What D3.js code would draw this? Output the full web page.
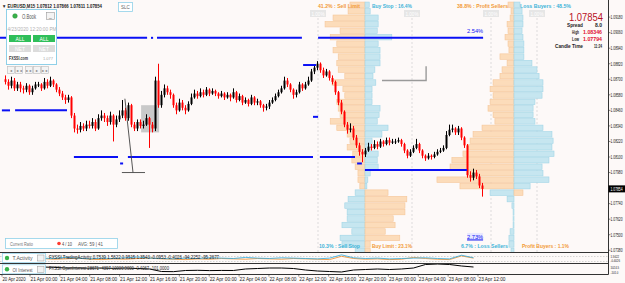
<!DOCTYPE html>
<html><head><meta charset="utf-8">
<script src="https://cdn.jsdelivr.net/npm/d3@7"></script>
<style>html,body{margin:0;padding:0;background:#fff;overflow:hidden}</style>
</head><body><svg id="c" width="625" height="283"></svg>
<script>
// ---------------- DATA ----------------
const symbolTitle = "\u25BC EURUSD,M15  1.07812 1.07866 1.07811 1.07854";
const firstOpen = 1.0870;
const closes = [1.0868,1.0865,1.0869,1.0863,1.0866,1.0863,1.0862,1.0865,1.0860,1.0863,
1.0866,1.0866,1.0863,1.0868,1.0865,1.0869,1.0866,1.0862,1.0859,1.0856,
1.0854,1.0856,1.0842,1.0832,1.0831,1.0834,1.0832,1.0835,1.0834,1.0837,
1.0832,1.0840,1.0842,1.0840,1.0837,1.0842,1.0835,1.0839,1.0842,1.0846,
1.0840,1.0850,1.0835,1.0832,1.0837,1.0834,1.0835,1.0840,1.0835,1.0832,
1.0869,1.0850,1.0858,1.0863,1.0860,1.0858,1.0850,1.0846,1.0852,1.0848,
1.0846,1.0851,1.0856,1.0859,1.0857,1.0860,1.0858,1.0862,1.0859,1.0861,
1.0859,1.0857,1.0859,1.0856,1.0858,1.0856,1.0860,1.0854,1.0857,1.0852,
1.0854,1.0851,1.0856,1.0852,1.0853,1.0850,1.0848,1.0849,1.0852,1.0854,
1.0857,1.0860,1.0863,1.0869,1.0866,1.0862,1.0858,1.0860,1.0866,1.0863,
1.0866,1.0869,1.0876,1.0879,1.0882,1.0877,1.0873,1.0876,1.0871,1.0868,
1.0860,1.0852,1.0845,1.0835,1.0831,1.0832,1.0825,1.0819,1.0814,1.0812,
1.0815,1.0818,1.0817,1.0820,1.0818,1.0822,1.0820,1.0823,1.0821,1.0822,
1.0822,1.0823,1.0820,1.0815,1.0811,1.0814,1.0817,1.0820,1.0815,1.0811,
1.0809,1.0811,1.0810,1.0812,1.0814,1.0815,1.0817,1.0827,1.0831,1.0832,
1.0829,1.0832,1.0825,1.0819,1.0796,1.0794,1.0798,1.0795,1.0788,1.07854];
const highs = [1.0873,1.0870,1.0872,1.0871,1.0868,1.0868,1.0865,1.0867,1.0866,1.0865,
1.0868,1.0868,1.0867,1.0871,1.0870,1.0872,1.0870,1.0867,1.0864,1.0861,
1.0858,1.0858,1.0857,1.0844,1.0835,1.0837,1.0836,1.0838,1.0838,1.0840,
1.0839,1.0843,1.0846,1.0844,1.0842,1.0845,1.0843,1.0842,1.0846,1.0854,
1.0848,1.0852,1.0851,1.0837,1.0839,1.0839,1.0838,1.0843,1.0841,1.0837,
1.0872,1.0882,1.0861,1.0866,1.0865,1.0862,1.0859,1.0852,1.0855,1.0854,
1.0850,1.0853,1.0859,1.0862,1.0861,1.0863,1.0862,1.0864,1.0863,1.0863,
1.0862,1.0860,1.0861,1.0860,1.0860,1.0859,1.0863,1.0861,1.0859,1.0858,
1.0856,1.0855,1.0858,1.0857,1.0855,1.0854,1.0851,1.0851,1.0854,1.0856,
1.0859,1.0862,1.0865,1.0872,1.0871,1.0867,1.0863,1.0862,1.0868,1.0867,
1.0868,1.0872,1.0878,1.0881,1.0884,1.0883,1.0879,1.0878,1.0877,1.0873,
1.0869,1.0861,1.0854,1.0846,1.0837,1.0836,1.0834,1.0827,1.0821,1.0816,
1.0817,1.0821,1.0820,1.0823,1.0822,1.0824,1.0823,1.0825,1.0825,1.0824,
1.0824,1.0825,1.0824,1.0821,1.0816,1.0816,1.0819,1.0824,1.0821,1.0816,
1.0812,1.0813,1.0812,1.0814,1.0816,1.0817,1.0819,1.0830,1.0835,1.0835,
1.0833,1.0834,1.0833,1.0826,1.0820,1.0799,1.0801,1.0800,1.0797,1.0790];
const lows = [1.0866,1.0862,1.0863,1.0861,1.0861,1.0860,1.0859,1.0860,1.0858,1.0858,
1.0862,1.0864,1.0861,1.0862,1.0863,1.0864,1.0864,1.0860,1.0857,1.0854,
1.0851,1.0852,1.0840,1.0829,1.0828,1.0829,1.0830,1.0830,1.0832,1.0832,
1.0830,1.0831,1.0838,1.0837,1.0834,1.0835,1.0822,1.0833,1.0837,1.0840,
1.0838,1.0838,1.0833,1.0830,1.0830,1.0832,1.0832,1.0834,1.0817,1.0829,
1.0830,1.0848,1.0848,1.0856,1.0858,1.0855,1.0848,1.0843,1.0845,1.0846,
1.0843,1.0845,1.0850,1.0855,1.0855,1.0856,1.0856,1.0857,1.0857,1.0858,
1.0857,1.0855,1.0856,1.0854,1.0855,1.0853,1.0855,1.0852,1.0853,1.0850,
1.0851,1.0849,1.0850,1.0850,1.0850,1.0848,1.0845,1.0846,1.0847,1.0851,
1.0853,1.0856,1.0859,1.0862,1.0864,1.0860,1.0855,1.0856,1.0859,1.0861,
1.0862,1.0865,1.0868,1.0874,1.0877,1.0875,1.0871,1.0872,1.0869,1.0866,
1.0858,1.0850,1.0843,1.0833,1.0828,1.0829,1.0823,1.0817,1.0811,1.0806,
1.0810,1.0814,1.0815,1.0816,1.0816,1.0817,1.0818,1.0819,1.0819,1.0820,
1.0820,1.0821,1.0818,1.0813,1.0809,1.0810,1.0813,1.0816,1.0813,1.0809,
1.0807,1.0808,1.0808,1.0809,1.0811,1.0813,1.0814,1.0816,1.0826,1.0829,
1.0827,1.0827,1.0823,1.0817,1.0794,1.0791,1.0792,1.0793,1.0786,1.07794];

const priceTicks = [1.09180,1.09060,1.08940,1.08820,1.08700,1.08580,1.08460,1.08340,1.08220,1.08100,1.07980,1.07740,1.07620,1.07500,1.07380];
const currentPrice = 1.07854;

const timeTickLabels = ["20 Apr 2020","21 Apr 00:00","21 Apr 04:00","21 Apr 08:00","21 Apr 12:00","21 Apr 16:00","21 Apr 20:00","22 Apr 00:00","22 Apr 04:00","22 Apr 08:00","22 Apr 12:00","22 Apr 16:00","22 Apr 20:00","23 Apr 00:00","23 Apr 04:00","23 Apr 08:00","23 Apr 12:00"];
const timeTickValues = ["2020-04-20T20:15","2020-04-21T00:00","2020-04-21T04:00","2020-04-21T08:00","2020-04-21T12:00","2020-04-21T16:00","2020-04-21T20:00","2020-04-22T00:00","2020-04-22T04:00","2020-04-22T08:00","2020-04-22T12:00","2020-04-22T16:00","2020-04-22T20:00","2020-04-23T00:00","2020-04-23T04:00","2020-04-23T08:00","2020-04-23T12:00"];

// order book rows (top price of each bucket)
const bookLevels = [1.0930,1.0925,1.0920,1.0915,1.0910,1.0905,1.0900,1.0895,1.0890,1.0885,1.0880,1.0875,1.0870,1.0865,1.0860,1.0855,1.0850,1.0845,1.0840,1.0835,1.0830,1.0825,1.0820,1.0815,1.0810,1.0805,1.0800,1.0795,1.0790,
  1.0785,1.0780,1.0775,1.0770,1.0765,1.0760,1.0755,1.0750,1.0745,1.0740];
// open orders (%)
const sellLimit = [0.32,0.36,0.68,0.85,0.53,0.74,0.60,0.68,0.57,0.60,0.57,0.43,0.70,0.47,0.43,0.60,0.57,0.53,0.74,0.60,0.38,0.32,0.38,0.26,0.28,0.21,0.15,0.15,0.11];
const buyStop   = [0.09,0.11,0.28,0.28,0.26,0.57,0.28,0.32,0.32,0.32,0.21,0.17,0.23,0.15,0.15,0.15,0.32,0.30,0.26,0.49,0.36,0.15,0.11,0.28,0.26,0.28,0.11,0.06,0.04];
const sellStop  = [0.21,0.36,0.43,0.38,0.38,0.49,0.28,0.53,0.49,0.21];
const buyLimit  = [0.49,0.89,0.85,0.85,0.60,0.64,0.43,0.74,0.11,0.11];
// open positions (%)
const profitSellers = [0.26,0.13,0.17,0.30,0.26,0.39,0.26,0.22,0.61,0.30,0.52,0.61,0.91,1.04,0.91,1.04,1.13,0.91,0.83,1.39,1.78,1.91,2.00,2.22,2.70,2.78,2.04,3.35,2.35];
const lossBuyers    = [0.26,0.35,0.39,0.39,0.35,0.39,0.43,0.43,0.43,0.78,1.00,1.09,1.26,1.26,1.22,0.91,0.83,0.83,0.91,1.26,1.65,1.70,1.65,1.74,1.52,1.22,1.26,1.52,0.70];
const lossSellers   = [1.04,0.30,0.09,0.04,0.04,0.04,0.17,0.22,0.22,0.13];
const profitBuyers  = [0.39,0,0,0,0,0,0,0,0,0];

// horizontal level lines (price, from bar, to bar)
const levelPrice = [1.0902,1.0902,1.0902,1.0902,1.0846,1.0846,1.0810,1.0810,1.0810,1.0805,1.0805,1.0800,1.0881,1.0841];
const levelFrom  = [-2,48.5,50.5,104.2,-1.2,3.2,22.8,40.8,104.8,38.2,117.2,119.8,99.2,102.5];
const levelTo    = [47.2,49.2,98.8,159.2,1.5,20.5,37.5,102.5,116.5,39.2,118.8,153.8,103.5,104.2];

// indicator windows (sampled every 4 bars)
const taBlue   = [0.5,0.7,0.4,0.6,0.5,0.8,0.6,0.4,0.6,0.5,0.7,0.9,0.6,0.5,0.4,0.6,0.5,0.7,0.6,0.5,0.8,0.6,0.5,0.7,0.6,0.5,0.4,0.6,1.5,0.7,0.5,0.6,0.4,0.5,0.6,0.7,0.5,0.4,1.4,0.7];
const taOrange = [0.3,0.4,1.0,0.5,0.3,0.4,0.6,0.3,0.2,0.4,0.3,0.5,0.6,0.4,0.3,0.2,0.4,0.3,0.5,0.4,0.3,0.5,0.4,0.3,0.5,0.4,0.3,0.2,1.1,0.5,0.3,0.4,0.2,0.3,0.8,0.5,0.3,0.2,1.2,0.6];
const oiValues = [28800,28790,28810,28800,28780,28733,28740,28720,28733,28710,28733,28700,28667,28500,28490,28567,28580,28560,28570,28567,28667,28700,28733,28733,28700,28600,28533,28500,28467,28600,28633,28667,28633,28667,28733,28967,29000,28967,28867,28800];

// ---------------- DRAW ----------------
const FONT = "Liberation Sans, Arial, sans-serif";
const svg = d3.select('#c');
svg.append('rect').attr('width',625).attr('height',283).attr('fill','#fdf9f8');

function txt(g,x,y,s,o={}){
  const t=g.append('text').attr('x',x).attr('y',y).text(s)
    .attr('font-family',FONT).attr('font-size',o.size||5)
    .attr('fill',o.fill||'#222').attr('font-weight',o.bold?'bold':'normal')
    .attr('text-anchor',o.anchor||'start');
  if(o.len){t.attr('textLength',o.len).attr('lengthAdjust','spacingAndGlyphs');}
  return t;
}
// narrow (horizontally scaled) text for the right axis
function ntxt(x,y,s,size,fill,sxv){
  return svg.append('text').attr('transform',`translate(${x},${y}) scale(${sxv},1)`)
    .text(s).attr('font-family',FONT).attr('font-size',size).attr('fill',fill);
}

const xIdx = d3.scaleLinear().domain([0,159]).range([5.5,482.5]);
const yP = d3.scaleLinear().domain([1.0810,1.0739]).range([157,248.97]);
const xTime = d3.scaleTime().domain([new Date("2020-04-21T00:00"),new Date("2020-04-23T12:00")]).range([30,478]);

svg.append('clipPath').attr('id','mc').append('rect').attr('x',0).attr('y',0).attr('width',608).attr('height',252);
const main = svg.append('g').attr('clip-path','url(#mc)');

// dashed 1% grid lines
const pctA = d3.scaleLinear().domain([0,1]).range([0,47]);
const pctB = d3.scaleLinear().domain([0,1]).range([0,23]);
const cA = 365, cB = 514;
[[cA,pctA],[cB,pctB]].forEach(([c,s])=>{
  [c-s(1),c+s(1)].forEach(x=>{
    main.append('line').attr('x1',x).attr('x2',x).attr('y1',18).attr('y2',252)
      .attr('stroke','#d4d4d4').attr('stroke-width',0.8).attr('stroke-dasharray','2,2');
    main.append('rect').attr('x',x-8).attr('y',10).attr('width',16).attr('height',7).attr('fill','#e6e6e6');
    txt(main,x,15.6,'1.00%',{size:5,fill:'#ffffff',anchor:'middle',len:13});
  });
});

// order book bars
const OR = {fill:'#fcdcba',stroke:'#f5c698'}, BL = {fill:'#c6e6f0',stroke:'#a0d5e6'};
function bar(c,s,k,v,side,col){
  if(!v) return;
  const y0 = yP(bookLevels[k]), y1 = yP(bookLevels[k]-0.0005);
  const w = s(v);
  main.append('rect').attr('x',side<0?c-w:c).attr('y',y0+0.5).attr('width',w).attr('height',y1-y0-1)
    .attr('fill',col.fill).attr('stroke',col.stroke).attr('stroke-width',0.6);
}
sellLimit.forEach((v,k)=>bar(cA,pctA,k,v,-1,OR));
buyStop.forEach((v,k)=>bar(cA,pctA,k,v,1,BL));
sellStop.forEach((v,k)=>bar(cA,pctA,k+29,v,-1,BL));
buyLimit.forEach((v,k)=>bar(cA,pctA,k+29,v,1,OR));
profitSellers.forEach((v,k)=>bar(cB,pctB,k,v,-1,OR));
lossBuyers.forEach((v,k)=>bar(cB,pctB,k,v,1,BL));
lossSellers.forEach((v,k)=>bar(cB,pctB,k+29,v,-1,BL));
profitBuyers.forEach((v,k)=>bar(cB,pctB,k+29,v,1,OR));

// gray rectangle object
main.append('rect').attr('x',xIdx(45.2)).attr('y',yP(1.0850)).attr('width',xIdx(51.2)-xIdx(45.2))
  .attr('height',yP(1.0829)-yP(1.0850)).attr('fill','#c9c9c9');

// candles
const bars = closes.map((c,i)=>({i,o:i?closes[i-1]:firstOpen,c,h:highs[i],l:lows[i]}));
const cg = main.append('g');
bars.forEach(b=>{
  const col = b.c>=b.o ? '#000000' : '#ff0000';
  const x = xIdx(b.i);
  cg.append('line').attr('x1',x).attr('x2',x).attr('y1',yP(b.h)).attr('y2',yP(b.l)).attr('stroke',col).attr('stroke-width',1);
  const yt = yP(Math.max(b.o,b.c)), yb = yP(Math.min(b.o,b.c));
  cg.append('rect').attr('x',x-1).attr('y',yt).attr('width',2).attr('height',Math.max(1,yb-yt)).attr('fill',col);
});

// level lines
levelPrice.forEach((p,k)=>{
  main.append('line').attr('x1',xIdx(levelFrom[k])).attr('x2',xIdx(levelTo[k]))
    .attr('y1',yP(p)).attr('y2',yP(p)).attr('stroke','#0a10f5').attr('stroke-width',2);
});
txt(main,xIdx(159.2),yP(1.0906),'2.54%',{size:5.5,fill:'#0a10f5',anchor:'end',len:16});
main.append('rect').attr('x',xIdx(159.2)-16).attr('y',yP(1.07475)-5).attr('width',16).attr('height',7).attr('fill','#e8e8ff');
txt(main,xIdx(159.2),yP(1.07475)+1,'2.73%',{size:5.5,fill:'#0a10f5',anchor:'end',len:16});
main.append('line').attr('x1',xIdx(159.2)-16).attr('x2',xIdx(159.2)).attr('y1',yP(1.07475)+2).attr('y2',yP(1.07475)+2).attr('stroke','#0a10f5').attr('stroke-width',1);

// gray drawn objects
const line = d3.line().x(d=>xIdx(d[0])).y(d=>yP(d[1]));
main.append('path').attr('d',line([[39.8,1.0855],[42.5,1.0798]])).attr('stroke','#444').attr('fill','none').attr('stroke-width',0.9);
main.append('path').attr('d',line([[38.8,1.0798],[46.5,1.0798]])).attr('stroke','#444').attr('fill','none').attr('stroke-width',0.9);
main.append('path').attr('d',line([[125.5,1.0869],[140.2,1.0869],[140.2,1.0880]])).attr('stroke','#9a9a9a').attr('fill','none').attr('stroke-width',1.4);

// order-book labels
const orC='#f29a36', blC='#3db4d8';
txt(svg,cA-5,8,'41.2% : Sell Limit',{size:6,bold:true,fill:orC,anchor:'end',len:42});
txt(svg,cA+7,8,'Buy Stop : 16.4%',{size:6,bold:true,fill:blC,len:40});
txt(svg,cB-6,8,'38.8% : Profit Sellers',{size:6,bold:true,fill:orC,anchor:'end',len:51});
txt(svg,cB+6,8,'Loss Buyers : 48.5%',{size:6,bold:true,fill:blC,len:51});
txt(svg,cA-5,247.5,'10.3% : Sell Stop',{size:6,bold:true,fill:blC,anchor:'end',len:41});
txt(svg,cA+7,247.5,'Buy Limit : 23.1%',{size:6,bold:true,fill:orC,len:40});
txt(svg,cB-6,247.5,'6.7% : Loss Sellers',{size:6,bold:true,fill:blC,anchor:'end',len:47});
txt(svg,cB+8,247.5,'Profit Buyers : 1.1%',{size:6,bold:true,fill:orC,len:47});

// title
txt(svg,2,7.5,symbolTitle,{size:5,bold:true,fill:'#222',len:100});
// SLC button
svg.append('rect').attr('x',118.5).attr('y',2.5).attr('width',14).attr('height',9).attr('fill','#fff').attr('stroke','#8fd0e8').attr('stroke-width',0.8);
txt(svg,125.5,9,'SLC',{size:4.5,fill:'#666',anchor:'middle'});

// O.Book panel
const ob = svg.append('g');
ob.append('rect').attr('x',6.5).attr('y',9.5).attr('width',50).attr('height',55).attr('fill','#ffffff').attr('stroke','#8fd0e8').attr('stroke-width',1);
ob.append('circle').attr('cx',15).attr('cy',16).attr('r',2.3).attr('fill','#37b34a').attr('stroke','#2a8a38').attr('stroke-width',0.5);
txt(ob,22,18.5,'O.Book',{size:6.5,fill:'#555',len:14});
ob.append('rect').attr('x',46.5).attr('y',12.5).attr('width',8).attr('height',7).attr('fill','#f4f4f4').attr('stroke','#999').attr('stroke-width',0.6);
txt(ob,50.5,18,'_',{size:5,fill:'#555',anchor:'middle'});
txt(ob,7.5,31,'4/23/2020 12:20:00 PM',{size:5,fill:'#b0b0b0',len:49});
[[9,'ALL'],[33,'ALL']].forEach(([x,s])=>{
  ob.append('rect').attr('x',x).attr('y',35).attr('width',22).attr('height',7).attr('fill','#2fbf5a');
  txt(ob,x+11,40.6,s,{size:5,fill:'#fff',anchor:'middle'});
  ob.append('rect').attr('x',x).attr('y',45).attr('width',22).attr('height',7).attr('fill','#dcdcdc');
  txt(ob,x+11,50.6,'NET',{size:5,fill:'#fff',anchor:'middle'});
});
txt(ob,9,60,'FXSSI.com',{size:5,bold:true,fill:'#333',len:19});
txt(ob,53,60,'1.077',{size:4,fill:'#aaa',anchor:'end'});
// nav buttons
[[7,'\u25C4'],[15,'\u25C4\u25C4'],[25,'\u25BA\u25BA'],[33,'\u25BA'],[41,'\u25BA\u25BA']].forEach(([x,s])=>{
  svg.append('rect').attr('x',x+0.5).attr('y',66.5).attr('width',7).attr('height',7).attr('fill','#f4f4f4').attr('stroke','#bbb').attr('stroke-width',0.6);
  txt(svg,x+4,72,s,{size:3.5,fill:'#777',anchor:'middle'});
});

// Current ratio panel
svg.append('rect').attr('x',5.5).attr('y',238.5).attr('width',112).attr('height',10).attr('fill','#fff').attr('stroke','#8fd0e8').attr('stroke-width',0.8);
txt(svg,10,245.5,'Current Ratio',{size:5.5,fill:'#777',len:23});
svg.append('circle').attr('cx',59).attr('cy',243.5).attr('r',1.8).attr('fill','#ff3b30');
txt(svg,62,245.5,'4 / 10',{size:5.5,fill:'#444',len:10});
txt(svg,78,245.5,'AVG: 59 | 41',{size:5.5,fill:'#555',len:25});

// right info block
txt(svg,603,20.5,currentPrice.toFixed(5),{size:10,fill:'#b8101e',anchor:'end',len:34});
txt(svg,583,26.5,'Spread',{size:5,bold:true,len:16,anchor:'end'});
txt(svg,602,26.5,'8.0',{size:5,bold:true,len:7,anchor:'end'});
txt(svg,579,33.5,'High',{size:5,bold:true,len:7,anchor:'end'});
txt(svg,602,33.5,'1.08346',{size:5,bold:true,fill:'#e01030',len:19,anchor:'end'});
txt(svg,579,40.5,'Low',{size:5,bold:true,len:7,anchor:'end'});
txt(svg,602,40.5,'1.07794',{size:5,bold:true,fill:'#e01030',len:19,anchor:'end'});
txt(svg,583,47.5,'Candle Time',{size:5,bold:true,len:28,anchor:'end'});
txt(svg,602,47.5,'11:24',{size:5,bold:true,len:8,anchor:'end'});

// indicator windows
const ind = svg.append('g');
const sx = j=>xIdx(j*4);
const yTA = d3.scaleLinear().domain([-1,2]).range([264,253]);
const yOI = d3.scaleLinear().domain([28400,29000]).range([273,264]);
[256.5,261.5].forEach(y=>ind.append('line').attr('x1',0).attr('x2',608).attr('y1',y).attr('y2',y).attr('stroke','#bbb').attr('stroke-width',0.6).attr('stroke-dasharray','1.5,1.5'));
const lTA = (arr)=>d3.line().x((d,j)=>sx(j)).y(d=>yTA(d))(arr);
ind.append('path').attr('d',lTA(taOrange)).attr('fill','none').attr('stroke','#f08a24').attr('stroke-width',0.8);
ind.append('path').attr('d',lTA(taBlue)).attr('fill','none').attr('stroke','#2aa8e0').attr('stroke-width',0.8);
ind.append('path').attr('d',d3.line().x((d,j)=>sx(j)).y(d=>yOI(d))(oiValues)).attr('fill','none').attr('stroke','#000').attr('stroke-width',1);

// separators & axis
[252.5,263.5,274.5].forEach(y=>svg.append('line').attr('x1',0).attr('x2',608.5).attr('y1',y).attr('y2',y).attr('stroke','#333').attr('stroke-width',1));
svg.append('line').attr('x1',608.5).attr('x2',608.5).attr('y1',0).attr('y2',274.5).attr('stroke','#333').attr('stroke-width',1);

// indicator buttons + texts
function btn(y,label){
  svg.append('rect').attr('x',2.5).attr('y',y).attr('width',43).attr('height',9).attr('fill','#fff').attr('stroke','#8fd0e8').attr('stroke-width',0.7);
  svg.append('circle').attr('cx',7).attr('cy',y+4.5).attr('r',2.2).attr('fill','#37b34a');
  txt(svg,12.5,y+6.8,label,{size:5.5,fill:'#555',len:20});
  svg.append('rect').attr('x',37.5).attr('y',y+1.5).attr('width',6.5).attr('height',6).attr('fill','#f2f2f2').attr('stroke','#999').attr('stroke-width',0.5);
}
btn(253.5,'T.Activity');
btn(264.8,'OI Interest');
txt(svg,49,259,'FXSSI.TradingActivity 0.7539 1.5622 0.9515 1.3543 -0.0953 -0.4026 -94.2252 -95.2677',{size:4.8,fill:'#222',len:170});
txt(svg,49,270.3,'FXSSI.OpenInterest 28671 -4397 10000.0000 -0.4067 -101.0000',{size:4.8,fill:'#222',len:120});

// price axis
priceTicks.forEach(p=>{
  svg.append('line').attr('x1',608.5).attr('x2',610.5).attr('y1',yP(p)).attr('y2',yP(p)).attr('stroke','#333').attr('stroke-width',0.6);
  ntxt(610.5,yP(p)+1.8,p.toFixed(5),4.8,'#222',0.7);
});
svg.append('rect').attr('x',608.5).attr('y',yP(currentPrice)-3.5).attr('width',16.5).attr('height',7).attr('fill','#000');
ntxt(610.5,yP(currentPrice)+1.8,currentPrice.toFixed(5),4.8,'#fff',0.7);
ntxt(610.5,257.5,'1.5622',4,'#222',0.7);
ntxt(610.5,262,'-0.4026',4,'#222',0.7);
ntxt(610.5,269,'1024.5',4,'#222',0.7);
ntxt(610.5,273.5,'-101.0',4,'#222',0.7);

// time axis
timeTickValues.forEach((t,k)=>{
  const x = xTime(new Date(t));
  svg.append('line').attr('x1',x).attr('x2',x).attr('y1',274.5).attr('y2',276.5).attr('stroke','#333').attr('stroke-width',0.6);
  txt(svg,x+0.5,281,timeTickLabels[k],{size:5,fill:'#222',len:k===0?23:27});
});
</script></body></html>
